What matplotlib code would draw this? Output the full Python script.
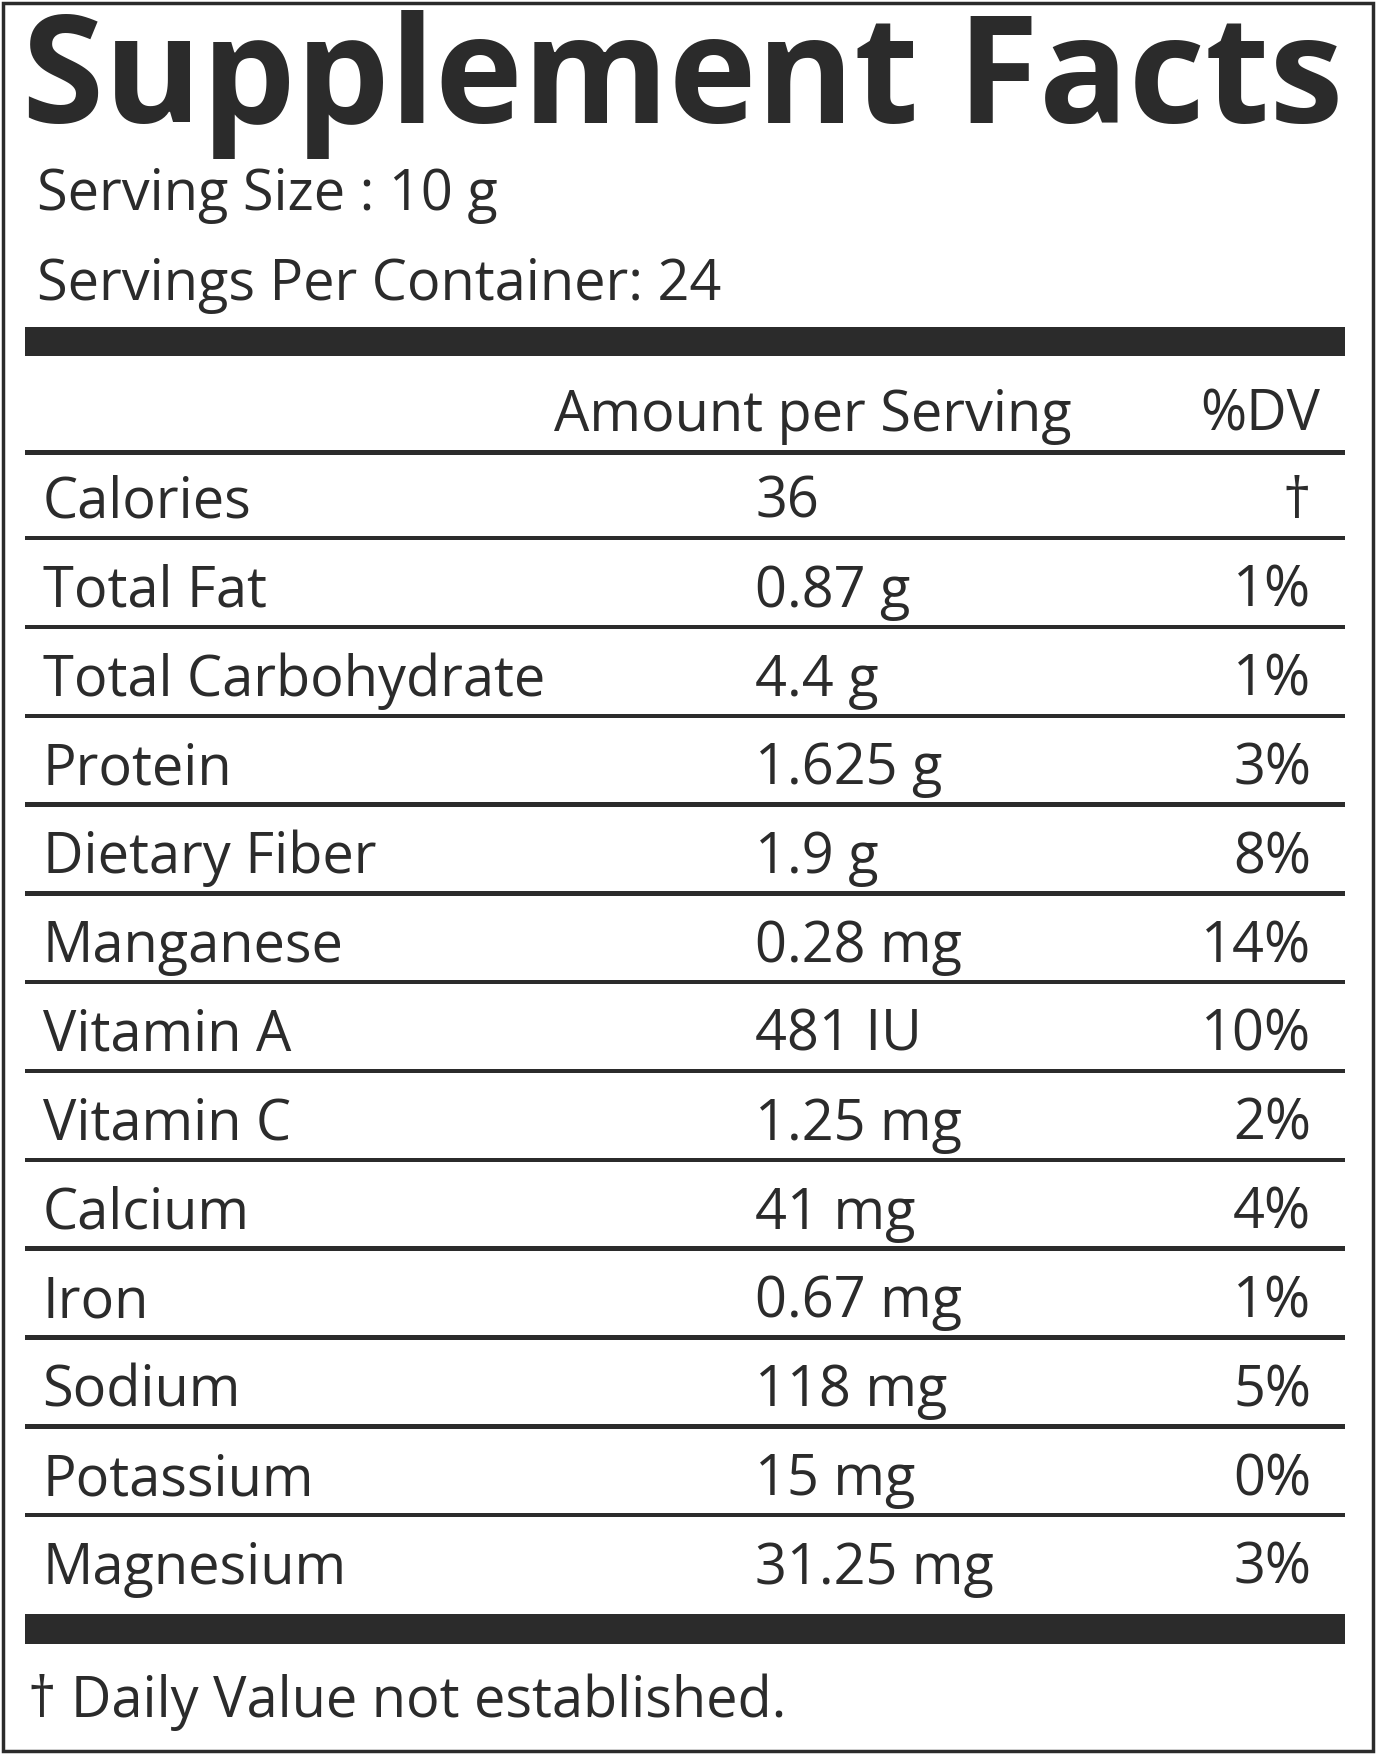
import matplotlib
matplotlib.use("Agg")
import matplotlib.pyplot as plt
from matplotlib.patches import Rectangle

title = "Supplement Facts"
serving_lines = ["Serving Size : 10 g", "Servings Per Container: 24"]
header = ["Amount per Serving", "%DV"]
nutrients = ["Calories", "Total Fat", "Total Carbohydrate", "Protein", "Dietary Fiber",
             "Manganese", "Vitamin A", "Vitamin C", "Calcium", "Iron", "Sodium",
             "Potassium", "Magnesium"]
amounts = ["36", "0.87 g", "4.4 g", "1.625 g", "1.9 g", "0.28 mg", "481 IU", "1.25 mg",
           "41 mg", "0.67 mg", "118 mg", "15 mg", "31.25 mg"]
dv = ["†", "1%", "1%", "3%", "8%", "14%", "10%", "2%", "4%", "1%", "5%", "0%", "3%"]
footnote = "† Daily Value not established."

C = "#2b2b2b"
W, H = 1376, 1754
S = 1376 / 1230
fig = plt.figure(figsize=(W/100, H/100), dpi=100)
ax = fig.add_axes([0, 0, 1, 1])
ax.set_xlim(0, W / S); ax.set_ylim(H / S, 0); ax.axis("off")
FONT = "Open Sans"

ax.add_patch(Rectangle((2.5, 2.5), W/S - 5, H/S - 5, fill=False, ec=C, lw=2.5))

t = ax.text(20, 110, title, fontfamily=FONT, fontweight="bold", fontsize=96, color=C, va="baseline")
fig.canvas.draw()
r = fig.canvas.get_renderer()
bb = t.get_window_extent(r)
t.set_fontsize(96 * 1322 / bb.width)

fs = 36 * S
ax.text(33, 188, serving_lines[0], fontfamily=FONT, fontsize=fs, color=C, va="baseline")
ax.text(33, 268, serving_lines[1], fontfamily=FONT, fontsize=fs, color=C, va="baseline")
ax.add_patch(Rectangle((22, 292), 1180, 26, color=C, lw=0))
ax.text(958, 385, header[0], fontfamily=FONT, fontsize=fs, color=C, va="baseline", ha="right")
ax.text(1180, 385, header[1], fontfamily=FONT, fontsize=fs, color=C, va="baseline", ha="right")
ax.add_patch(Rectangle((22, 402), 1180, 5, color=C, lw=0))

step = 79.4
for i, (n, a, d) in enumerate(zip(nutrients, amounts, dv)):
    yb = 463 + i * step
    ax.text(38, yb, n, fontfamily=FONT, fontsize=fs, color=C, va="baseline")
    ax.text(675, yb, a, fontfamily=FONT, fontsize=fs, color=C, va="baseline")
    ax.text(1172, yb, d, fontfamily=FONT, fontsize=fs, color=C, va="baseline", ha="right")
    if i < len(nutrients) - 1:
        ax.add_patch(Rectangle((22, 479 + i * step), 1180, 4, color=C, lw=0))

ax.add_patch(Rectangle((22, 1443), 1180, 27, color=C, lw=0))
ax.text(25, 1535, footnote, fontfamily=FONT, fontsize=fs, color=C, va="baseline")

fig.savefig("out.png", dpi=100)
